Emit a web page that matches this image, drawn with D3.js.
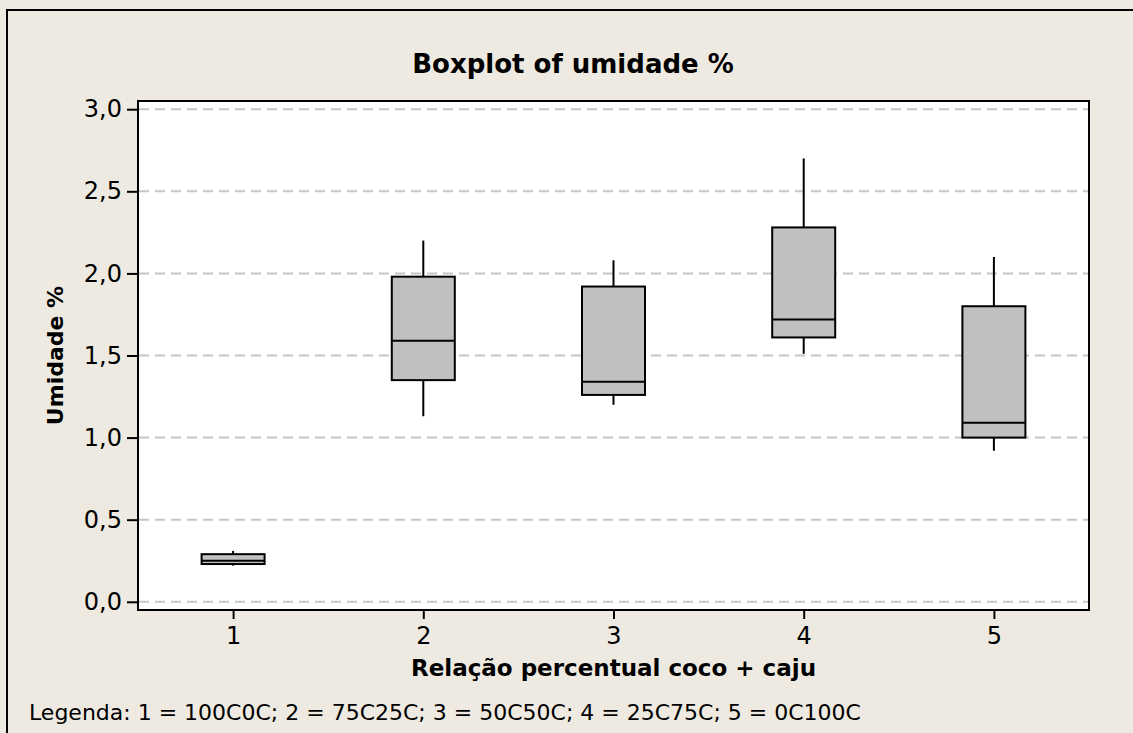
<!DOCTYPE html>
<html>
<head>
<meta charset="utf-8">
<script src="https://cdn.jsdelivr.net/npm/d3@7"></script>
<style>
  html, body { margin: 0; padding: 0; background: #eeeae1; }
  svg { display: block; font-family: "DejaVu Sans", Verdana, sans-serif; }
</style>
</head>
<body>
<div id="chart"></div>
<script>
// data
var categories = ['1', '2', '3', '4', '5'];
var whiskerLow  = [0.22, 1.13, 1.20, 1.51, 0.92];
var q1          = [0.23, 1.35, 1.26, 1.61, 1.00];
var median      = [0.25, 1.59, 1.34, 1.72, 1.09];
var q3          = [0.29, 1.98, 1.92, 2.28, 1.80];
var whiskerHigh = [0.31, 2.20, 2.08, 2.70, 2.10];
var yTicks = [0, 0.5, 1, 1.5, 2, 2.5, 3];

var title = 'Boxplot of umidade %',
    xTitle = 'Relação percentual coco + caju',
    yTitle = 'Umidade %',
    legendText = 'Legenda: 1 = 100C0C; 2 = 75C25C; 3 = 50C50C; 4 = 25C75C; 5 = 0C100C';

(function(d3) {

var width = 1133,
    height = 733;

// plot area
var pLeft = 138, pTop = 101, pRight = 1089, pBottom = 610;
var boxWidth = 63;

var locale = d3.formatLocale({ decimal: ',', thousands: '.', grouping: [3], currency: ['', ''] });
var fmt = locale.format('.1f');

var svg = d3.select('#chart')
  .append('svg')
  .attr('width', width)
  .attr('height', height);

// page background and frame
svg.append('rect')
  .attr('width', width).attr('height', height)
  .attr('fill', '#eeeae1');

svg.append('rect')
  .attr('x', 7).attr('y', 10)
  .attr('width', 1140).attr('height', 760)
  .attr('fill', 'none')
  .attr('stroke', '#000')
  .attr('stroke-width', 2);

var x = d3.scalePoint()
  .domain(categories)
  .range([pLeft, pRight])
  .padding(0.5);

var y = d3.scaleLinear()
  .domain([-0.05, 3.05])
  .range([pBottom, pTop]);

// plot background
svg.append('rect')
  .attr('x', pLeft).attr('y', pTop)
  .attr('width', pRight - pLeft).attr('height', pBottom - pTop)
  .attr('fill', '#fff');

// dashed grid
svg.append('g')
  .selectAll('line')
  .data(yTicks)
  .enter()
  .append('line')
  .attr('x1', pLeft + 1).attr('x2', pRight - 1)
  .attr('y1', function(d) { return y(d); })
  .attr('y2', function(d) { return y(d); })
  .attr('stroke', '#c6c6c6')
  .attr('stroke-width', 2)
  .attr('stroke-dasharray', '10,6');

var boxes = categories.map(function(c, i) {
  return { cat: c, lo: whiskerLow[i], q1: q1[i], med: median[i], q3: q3[i], hi: whiskerHigh[i] };
});

var g = svg.append('g')
  .selectAll('g')
  .data(boxes)
  .enter()
  .append('g');

// whiskers
g.append('line')
  .attr('x1', function(d) { return x(d.cat); })
  .attr('x2', function(d) { return x(d.cat); })
  .attr('y1', function(d) { return y(d.hi); })
  .attr('y2', function(d) { return y(d.q3); })
  .attr('stroke', '#000').attr('stroke-width', 2);

g.append('line')
  .attr('x1', function(d) { return x(d.cat); })
  .attr('x2', function(d) { return x(d.cat); })
  .attr('y1', function(d) { return y(d.q1); })
  .attr('y2', function(d) { return y(d.lo); })
  .attr('stroke', '#000').attr('stroke-width', 2);

// boxes
g.append('rect')
  .attr('x', function(d) { return x(d.cat) - boxWidth / 2; })
  .attr('y', function(d) { return y(d.q3); })
  .attr('width', boxWidth)
  .attr('height', function(d) { return y(d.q1) - y(d.q3); })
  .attr('fill', '#c0c0c0')
  .attr('stroke', '#000')
  .attr('stroke-width', 2);

// medians
g.append('line')
  .attr('x1', function(d) { return x(d.cat) - boxWidth / 2; })
  .attr('x2', function(d) { return x(d.cat) + boxWidth / 2; })
  .attr('y1', function(d) { return y(d.med); })
  .attr('y2', function(d) { return y(d.med); })
  .attr('stroke', '#000').attr('stroke-width', 2);

// plot border
svg.append('rect')
  .attr('x', pLeft).attr('y', pTop)
  .attr('width', pRight - pLeft).attr('height', pBottom - pTop)
  .attr('fill', 'none')
  .attr('stroke', '#000')
  .attr('stroke-width', 2);

// axes
var yAxis = svg.append('g')
  .attr('transform', 'translate(' + pLeft + ',0)')
  .call(d3.axisLeft(y).tickValues(yTicks).tickFormat(fmt).tickSize(11).tickPadding(5));

var xAxis = svg.append('g')
  .attr('transform', 'translate(0,' + pBottom + ')')
  .call(d3.axisBottom(x).tickSize(9).tickPadding(8));

[yAxis, xAxis].forEach(function(ax) {
  ax.select('.domain').remove();
  ax.attr('font-size', null).attr('font-family', null);
  ax.selectAll('line').attr('stroke', '#000').attr('stroke-width', 2);
  ax.selectAll('text')
    .attr('fill', '#000')
    .style('font-size', '24px');
});

// titles
svg.append('text')
  .attr('x', 573).attr('y', 73)
  .attr('text-anchor', 'middle')
  .style('font-size', '26px').style('font-weight', 'bold')
  .text(title);

svg.append('text')
  .attr('x', (pLeft + pRight) / 2).attr('y', 676)
  .attr('text-anchor', 'middle')
  .style('font-size', '23px').style('font-weight', 'bold')
  .text(xTitle);

svg.append('text')
  .attr('transform', 'translate(63,' + ((pTop + pBottom) / 2) + ') rotate(-90)')
  .attr('text-anchor', 'middle')
  .style('font-size', '22px').style('font-weight', 'bold')
  .text(yTitle);

svg.append('text')
  .attr('x', 29).attr('y', 720)
  .style('font-size', '22px')
  .text(legendText);

})(window.d3);
</script>
</body>
</html>
